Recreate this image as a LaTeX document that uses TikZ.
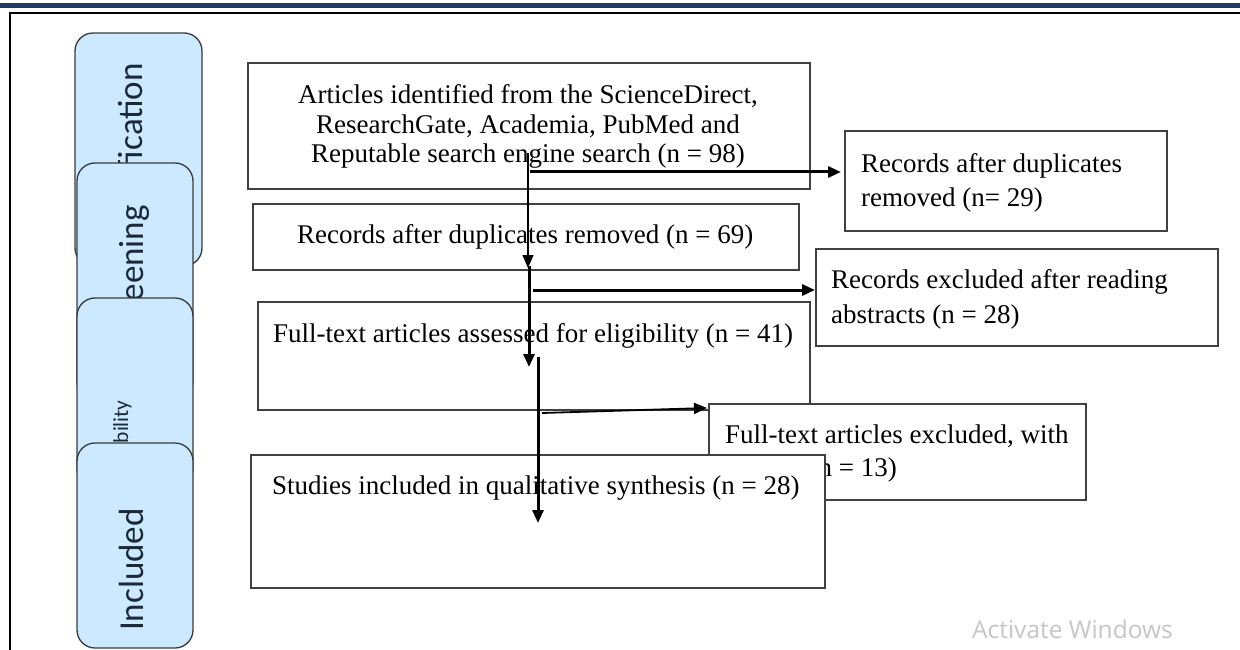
\documentclass[tikz,border=0pt]{standalone}
\usepackage{fontspec}
\setmainfont{Liberation Serif}
\newfontfamily\calfont{Carlito}
\newfontfamily\winfont{Open Sans}
\usetikzlibrary{arrows.meta}
\definecolor{barblue}{HTML}{1F3864}
\definecolor{phasefill}{HTML}{CCE9FF}
\definecolor{phaseline}{HTML}{3A3A3A}
\definecolor{phasetext}{HTML}{1A2838}
\definecolor{boxline}{HTML}{404040}
\definecolor{wmgray}{HTML}{C6C6C6}
\begin{document}
\begin{tikzpicture}[x=1pt,y=-1pt,
  phase/.style={draw=phaseline, line width=1.3pt, fill=phasefill, rounded corners=18pt, inner sep=0pt},
  phaselabel/.style={rotate=90, anchor=base east, inner sep=0pt, text=phasetext, font=\calfont\fontsize{35}{40}\selectfont},
  flowbox/.style={draw=boxline, line width=1.4pt, fill=white, inner sep=0pt},
  ctext/.style={anchor=base, inner sep=0pt, font=\fontsize{27}{30}\selectfont},
  ltext/.style={anchor=base west, inner sep=0pt, font=\fontsize{27}{30}\selectfont},
  conn/.style={line width=3pt, -{Triangle[length=13pt,width=11pt]}},
  thinconn/.style={line width=1.2pt, -{Triangle[length=13pt,width=11pt]}},
  midconn/.style={line width=1.8pt, -{Triangle[length=13pt,width=11pt]}}
]
\useasboundingbox (0,0) rectangle (1240,650);
\fill[white] (0,0) rectangle (1240,650);
% top bar and frame
\fill[barblue] (0,3) rectangle (1240,8);
\draw[line width=2.5pt, line cap=rect] (10,651) -- (10,13) -- (1241,13);

% phase boxes (left)
\node[phase, minimum width=127pt, minimum height=233pt] (ident) at (138.5,149.5) {};
\node[phaselabel] (identlab) at (142,63) {Identification};
\node[phase, minimum width=116pt, minimum height=237pt] (screen) at (135,281.5) {};
\node[phaselabel] (screenlab) at (143,205) {Screening};
\node[phase, minimum width=116pt, minimum height=189pt] (elig) at (135,392.5) {};
\node[phaselabel, font=\calfont\fontsize{21.5}{24}\selectfont] (eliglab) at (128,400) {Eligibility};
\node[phase, minimum width=116pt, minimum height=205pt] (incl) at (135,545.5) {};
\node[phaselabel] (incllab) at (143,508) {Included};

% flow boxes
\node[flowbox, minimum width=562pt, minimum height=126pt] (A) at (529,126) {};
\node[ctext] (A1) at (528,104) {Articles identified from the ScienceDirect,};
\node[ctext] (A2) at (528,134) {ResearchGate, Academia, PubMed and};
\node[ctext] (A3) at (528,163) {Reputable search engine search (n = 98)};

\node[flowbox, minimum width=546pt, minimum height=66pt] (B) at (526,237) {};
\node[ltext] (B1) at (297,243) {Records after duplicates removed (n = 69)};

\node[flowbox, minimum width=552pt, minimum height=108pt] (C) at (534,356) {};
\node[ltext] (C1) at (273,342) {Full-text articles assessed for eligibility (n = 41)};

\node[flowbox, minimum width=322pt, minimum height=100pt] (E) at (1006,181) {};
\node[ltext] (E1) at (861,173) {Records after duplicates};
\node[ltext] (E2) at (861,207) {removed (n= 29)};

\node[flowbox, minimum width=402pt, minimum height=97pt] (F) at (1017,297.5) {};
\node[ltext] (F1) at (831,288) {Records excluded after reading};
\node[ltext] (F2) at (831,323) {abstracts (n = 28)};

\node[flowbox, minimum width=377pt, minimum height=96pt] (G) at (897.5,452) {};
\node[ltext] (G1) at (725,443) {Full-text articles excluded, with};
\node[ctext, anchor=base east] (G2) at (897,476) {(n = 13)};

\node[flowbox, minimum width=574pt, minimum height=133pt] (D) at (538,521.5) {};
\node[ltext] (D1) at (272,494) {Studies included in qualitative synthesis (n = 28)};

% connectors
\coordinate (p1s) at (528,153);
\coordinate (p1e) at (528,268);
\coordinate (h1s) at (530,172);
\coordinate (h1e) at (841,172);
\coordinate (p2s) at (529,266);
\coordinate (p2e) at (529,367);
\coordinate (h2s) at (533,290);
\coordinate (h2e) at (815,290);
\coordinate (p3s) at (538,357);
\coordinate (p3e) at (538,523);
\coordinate (h3s) at (542,413);
\coordinate (h3e) at (707,408);

\draw[thinconn] (p1s) -- (p1e);
\draw[conn] (h1s) -- (h1e);
\draw[conn] (p2s) -- (p2e);
\draw[conn] (h2s) -- (h2e);
\draw[conn] (p3s) -- (p3e);
\draw[midconn] (h3s) -- (h3e);

% watermark
\node[anchor=base west, inner sep=0pt, text=wmgray, font=\winfont\fontsize{24.5}{28}\selectfont] (wm) at (972,638) {Activate Windows};
\end{tikzpicture}
\end{document}
